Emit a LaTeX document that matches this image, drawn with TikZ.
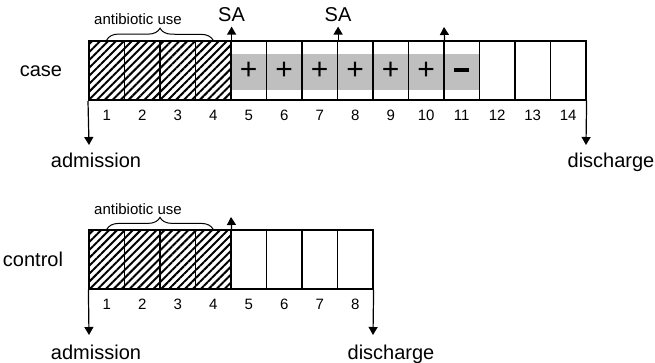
\documentclass[tikz,border=0pt]{standalone}
\usepackage{fontspec}
\setmainfont{Liberation Sans}
\usetikzlibrary{arrows.meta,patterns.meta,decorations.pathreplacing}

\begin{document}
\begin{tikzpicture}[
    x=0.5pt, y=-0.5pt,
    text centered,
	day/.style={
	  rectangle,
	  draw,
	  line width=0.6pt,
	  minimum width=17.75pt,
	  minimum height=29.5pt,
	  inner sep=0pt
	},
	used/.style={
	  day,
	  pattern={Lines[angle=45, distance=2.8pt, line width=1pt]}
	},
	word/.style={anchor=base, inner sep=2pt, font=\fontsize{10}{12}\selectfont},
	small/.style={anchor=base, inner sep=1pt, font=\fontsize{7.5}{9}\selectfont},
	sign/.style={font=\fontsize{15}{15}\selectfont},
 	line/.style={draw, line width=0.6pt},
 	arrow/.style={line, -{Triangle[length=4pt, width=4.5pt]}},
 	brace/.style={draw, line width=0.5pt, decorate, decoration={brace, amplitude=6pt}}
	]
	\useasboundingbox (0, 0) rectangle (655, 363);
	% case
	\fill [black!25] (231, 54) rectangle (479.5, 90);
	\foreach \i in {1,...,4}
	  \node [used] at ({89+(\i-0.5)*35.5}, 70.5) (case\i) {};
	\foreach \i in {5,...,14}
	  \node [day] at ({89+(\i-0.5)*35.5}, 70.5) (case\i) {};
	\foreach \i in {1,...,14}
	  \node [small] at ({89+(\i-0.5)*35.5}, 121) (casenum\i) {\i};
	\foreach \i in {5,...,10}
	  \node [sign] at (case\i) (plus\i) {+};
	\node at (case11) (minus) {\rule{7.5pt}{2pt}};
	\node [word] at (41, 77) (case) {case};
	\node [small] at (138, 25) (abcase) {antibiotic use};
	\draw [brace] (case1.north) -- (case4.north);
	\node [word] at (231.5, 22) (sa1) {SA};
	\node [word] at (338, 22) (sa2) {SA};
	\coordinate (neg) at (444, 27);
	\draw [arrow] (case4.north east) -- (sa1.south -| case4.north east);
	\draw [arrow] (case7.north east) -- (sa2.south -| case7.north east);
	\draw [arrow] (case10.north east) -- (neg);
	\node [word] at (96, 168) (admcase) {admission};
	\node [word] at (611, 168) (discase) {discharge};
	\coordinate (admcasetip) at (89, 145);
	\coordinate (discasetip) at (586, 145);
	\draw [arrow] (case1.south west) -- (admcasetip);
	\draw [arrow] (case14.south east) -- (discasetip);
	% control
	\foreach \i in {1,...,4}
	  \node [used] at ({89+(\i-0.5)*35.5}, 259.5) (ctl\i) {};
	\foreach \i in {5,...,8}
	  \node [day] at ({89+(\i-0.5)*35.5}, 259.5) (ctl\i) {};
	\foreach \i in {1,...,8}
	  \node [small] at ({89+(\i-0.5)*35.5}, 310) (ctlnum\i) {\i};
	\node [word] at (33, 267) (control) {control};
	\node [small] at (138, 215) (abctl) {antibiotic use};
	\draw [brace] (ctl1.north) -- (ctl4.north);
	\coordinate (ctltip) at (231, 217);
	\draw [arrow] (ctl4.north east) -- (ctltip);
	\node [word] at (96, 360) (admctl) {admission};
	\node [word] at (391, 360) (disctl) {discharge};
	\coordinate (admctltip) at (89, 335);
	\coordinate (disctltip) at (373, 335);
	\draw [arrow] (ctl1.south west) -- (admctltip);
	\draw [arrow] (ctl8.south east) -- (disctltip);
  \end{tikzpicture}
\end{document}
